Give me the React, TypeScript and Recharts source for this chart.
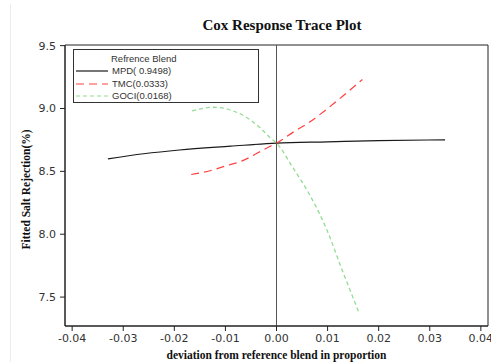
import { LineChart, Line, XAxis, YAxis, ReferenceLine, ReferenceArea, Legend } from 'recharts';

const xTicks = [-0.04, -0.03, -0.02, -0.01, 0, 0.01, 0.02, 0.03, 0.04];
const yTicks = [7.5, 8.0, 8.5, 9.0, 9.5];
const xDomain = [-0.0414, 0.0414];
const yDomain = [7.27, 9.505];

const mpdX = [-0.033, -0.026, -0.019, -0.009, 0, 0.01, 0.02, 0.033];
const mpdY = [8.6, 8.64, 8.67, 8.7, 8.725, 8.735, 8.745, 8.75];

const tmcX = [-0.0167, -0.013, -0.0098, -0.0066, -0.004, -0.0017, 0, 0.0032, 0.0064, 0.0097, 0.0136, 0.0168];
const tmcY = [8.475, 8.505, 8.545, 8.585, 8.64, 8.69, 8.725, 8.81, 8.89, 8.99, 9.12, 9.23];

const gociX = [-0.0165, -0.0124, -0.0092, -0.0059, -0.0033, -0.0013, 0, 0.0032, 0.0064, 0.0097, 0.0129, 0.0162];
const gociY = [8.98, 9.01, 8.99, 8.93, 8.85, 8.77, 8.725, 8.53, 8.32, 8.05, 7.71, 7.37];

const toPoints = (xs: number[], ys: number[]) => xs.map((x, i) => ({ x, y: ys[i] }));

const series = [
  { name: 'MPD( 0.9498)', color: '#1a1a1a', dash: undefined, width: 1.2, data: toPoints(mpdX, mpdY) },
  { name: 'TMC(0.0333)', color: '#ff4040', dash: '8 5', width: 1.2, data: toPoints(tmcX, tmcY) },
  { name: 'GOCI(0.0168)', color: '#94dc94', dash: '4 3', width: 1.3, data: toPoints(gociX, gociY) },
];

const tickStyle = { fontFamily: 'DejaVu Sans', fontSize: 11, fill: '#333' };
const labelStyle = { fontFamily: 'Liberation Serif', fontWeight: 'bold', fontSize: 11.5, fill: '#111' };

function LegendBox() {
  return (
    <div
      style={{
        border: '1px solid #333',
        width: 186,
        height: 54,
        boxSizing: 'border-box',
        fontFamily: 'Liberation Sans',
        fontSize: 9.5,
        color: '#333',
        background: '#fff',
        paddingTop: 2,
        textAlign: 'left',
      }}
    >
      <div style={{ paddingLeft: 37, height: 13, lineHeight: '13px' }}>Refrence Blend</div>
      {series.map((s) => (
        <div key={s.name} style={{ display: 'flex', alignItems: 'center', height: 12.5, lineHeight: '12.5px' }}>
          <svg width={32} height={8} style={{ marginLeft: 2, marginRight: 4, flexShrink: 0 }}>
            <line x1={0} y1={4} x2={32} y2={4} stroke={s.color} strokeWidth={1.2} strokeDasharray={s.dash} />
          </svg>
          <span>{s.name}</span>
        </div>
      ))}
    </div>
  );
}

export default function App() {
  return (
    <div style={{ position: 'absolute', left: 0, top: 0, width: 491, height: 362, background: '#fff' }}>
      <div style={{ position: 'absolute', left: 10, top: 4, bottom: 0, borderLeft: '1px solid #ececec' }} />
      <div
        style={{
          position: 'absolute',
          left: 0,
          top: 17,
          width: 564,
          textAlign: 'center',
          fontFamily: 'Liberation Serif',
          fontWeight: 'bold',
          fontSize: 15,
          color: '#111',
        }}
      >
        Cox Response Trace Plot
      </div>
      <LineChart width={491} height={362} margin={{ top: 45, right: 3, bottom: 0, left: 0 }}>
        <XAxis
          dataKey="x"
          type="number"
          domain={xDomain}
          ticks={xTicks}
          tickFormatter={(v: number) => v.toFixed(2)}
          tick={tickStyle}
          tickSize={5}
          tickMargin={3}
          height={36}
          stroke="#222"
          allowDataOverflow
          label={{ value: 'deviation from reference blend in proportion', position: 'insideBottom', offset: 3, style: labelStyle }}
        />
        <YAxis
          type="number"
          domain={yDomain}
          ticks={yTicks}
          tickFormatter={(v: number) => v.toFixed(1)}
          tick={tickStyle}
          tickSize={5}
          tickMargin={4}
          width={65}
          stroke="#222"
          allowDataOverflow
          label={{ value: 'Fitted Salt Rejection(%)', position: 'center', angle: -90, dx: -7, dy: 4, style: labelStyle }}
        />
        <ReferenceArea x1={xDomain[0]} x2={xDomain[1]} y1={yDomain[0]} y2={yDomain[1]} fill="none" stroke="#222" strokeWidth={1} />
        <ReferenceLine x={0} stroke="#555" strokeWidth={1} />
        <Legend
          layout="horizontal"
          verticalAlign="middle"
          wrapperStyle={{ left: 73, top: 49, width: 186 }}
          content={() => <LegendBox />}
        />
        {series.map((s) => (
          <Line
            key={s.name}
            name={s.name}
            data={s.data}
            dataKey="y"
            type="monotone"
            stroke={s.color}
            strokeWidth={s.width}
            strokeDasharray={s.dash}
            dot={false}
            activeDot={false}
            isAnimationActive={false}
          />
        ))}
      </LineChart>
    </div>
  );
}
